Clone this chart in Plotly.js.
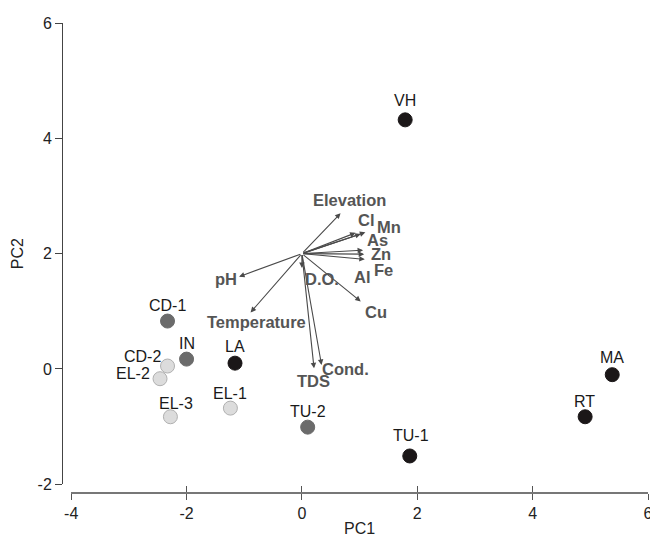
<!DOCTYPE html>
<html>
<head>
<meta charset="utf-8">
<script src="https://cdn.plot.ly/plotly-3.0.1.min.js"></script>
<style>html,body{margin:0;padding:0;background:#fff;}#chart{width:650px;height:540px;}</style>
</head>
<body>
<div id="chart"></div>
<script>
// Sample scores
var sites = ['VH','MA','RT','TU-1','TU-2','LA','IN','CD-1','CD-2','EL-2','EL-3','EL-1'];
var pc1   = [1.79, 5.38, 4.91, 1.87, 0.10, -1.16, -2.00, -2.33, -2.33, -2.46, -2.28, -1.24];
var pc2   = [4.32, -0.10, -0.83, -1.51, -1.01, 0.10, 0.17, 0.83, 0.05, -0.17, -0.83, -0.68];
var group = ['A','A','A','A','B','A','B','B','C','C','C','C'];

// Variable loadings (arrow tips, drawn from the origin point)
var originPC1 = 0.0;
var originPC2 = 2.0;
var variables = ['Elevation','Cl','Mn','As','Zn','Fe','Al','D.O.','Cu','pH','Temperature','Cond.','TDS'];
var loadPC1   = [0.67, 0.93, 1.10, 1.02, 1.06, 1.08, 1.09, 0.00, 1.02, -1.09, -0.89, 0.34, 0.21];
var loadPC2   = [2.70, 2.36, 2.37, 2.34, 2.06, 1.99, 1.90, 1.75, 1.17, 1.60, 0.98, 0.07, 0.01];

var xTicks = [-4, -2, 0, 2, 4, 6];
var yTicks = [-2, 0, 2, 4, 6];

// styles
var groupStyle = {
  A: {color: '#1b1718', line: '#1b1718'},
  B: {color: '#6b6b6b', line: '#6b6b6b'},
  C: {color: '#dcdcdc', line: '#b0b0b0'}
};
var siteLabelShift = {
  'VH':[0,19],'MA':[0,17],'RT':[-1,15],'TU-1':[1,20],'TU-2':[0,16],'LA':[0,17],
  'IN':[0,16],'CD-1':[0,16],'CD-2':[-25,10],'EL-2':[-27,5],'EL-3':[6,13],'EL-1':[0,15]
};
var varLabelShift = {
  'Elevation':[9,13],'Cl':[11,13],'Mn':[24,5],'As':[17,-6],'Zn':[18,-4],'Fe':[19,-16],
  'Al':[-2,-18],'D.O.':[20,-11],'Cu':[15,-11],'pH':[-13,-2],'Temperature':[6,-10],
  'Cond.':[24,-4],'TDS':[-1,-13]
};
var FONT = 'Liberation Sans, Arial, sans-serif';

var traces = [];
['A','B','C'].forEach(function(g){
  var xs=[], ys=[], ns=[];
  for (var i=0;i<sites.length;i++){ if(group[i]===g){xs.push(pc1[i]);ys.push(pc2[i]);ns.push(sites[i]);} }
  traces.push({
    type:'scatter', mode:'markers', x:xs, y:ys, text:ns, hoverinfo:'text',
    marker:{size:14, color:groupStyle[g].color, line:{color:groupStyle[g].line, width:1}},
    cliponaxis:false, showlegend:false
  });
});
// empty trace to host the overlay axes that draw the inner half of each tick
traces.push({type:'scatter', mode:'markers', x:[], y:[], xaxis:'x2', yaxis:'y2', showlegend:false, hoverinfo:'skip'});

var annotations = [];
for (var j=0;j<variables.length;j++){
  annotations.push({
    x: loadPC1[j], y: loadPC2[j], ax: originPC1, ay: originPC2,
    xref:'x', yref:'y', axref:'x', ayref:'y',
    text:'', showarrow:true, arrowhead:2, arrowsize:1, arrowwidth:1.1,
    arrowcolor:'#4a4a4a', standoff:0, startstandoff:0
  });
}
for (var j=0;j<variables.length;j++){
  var s = varLabelShift[variables[j]];
  annotations.push({
    x: loadPC1[j], y: loadPC2[j], xref:'x', yref:'y', text:'<b>'+variables[j]+'</b>',
    showarrow:false, xshift:s[0], yshift:s[1], xanchor:'center', yanchor:'middle',
    font:{family:FONT, size:16.5, color:'#555555'}
  });
}
for (var i=0;i<sites.length;i++){
  var s = siteLabelShift[sites[i]];
  annotations.push({
    x: pc1[i], y: pc2[i], xref:'x', yref:'y', text:sites[i],
    showarrow:false, xshift:s[0], yshift:s[1], xanchor:'center', yanchor:'middle',
    font:{family:FONT, size:16, color:'#1a1a1a'}
  });
}

var layout = {
  width:650, height:540,
  margin:{l:62, r:2, t:23, b:48},
  paper_bgcolor:'#ffffff', plot_bgcolor:'#ffffff',
  showlegend:false,
  font:{family:FONT, size:16, color:'#222'},
  xaxis:{
    range:[-4,6], domain:[0.0157,1], anchor:'free', position:0,
    tickvals:xTicks, ticktext:xTicks.map(String), ticklabeloverflow:'allow',
    showgrid:false, zeroline:false, showline:true, linecolor:'#777', linewidth:1.5,
    ticks:'outside', ticklen:6, tickcolor:'#555', tickwidth:1,
    tickfont:{size:16, color:'#222'},
    title:{text:'PC1', font:{size:16, color:'#222'}, standoff:2}
  },
  yaxis:{
    range:[-2,6], domain:[0.0166,1], anchor:'free', position:0,
    tickvals:yTicks, ticktext:yTicks.map(String), ticklabeloverflow:'allow',
    showgrid:false, zeroline:false, showline:true, linecolor:'#444', linewidth:1.3,
    ticks:'outside', ticklen:7, tickcolor:'#444', tickwidth:1,
    tickfont:{size:16, color:'#222'},
    title:{text:'PC2', font:{size:16, color:'#222'}, standoff:8}
  },
  xaxis2:{
    range:[-4,6], domain:[0.0157,1], anchor:'free', position:0, overlaying:'x',
    tickvals:xTicks, showticklabels:false, showgrid:false, zeroline:false, showline:false,
    ticks:'inside', ticklen:6, tickcolor:'#555', tickwidth:1
  },
  yaxis2:{
    range:[-2,6], domain:[0.0166,1], anchor:'free', position:0, overlaying:'y',
    tickvals:[-2], showticklabels:false, showgrid:false, zeroline:false, showline:false,
    ticks:'inside', ticklen:6, tickcolor:'#444', tickwidth:1
  },
  annotations:annotations
};

Plotly.newPlot('chart', traces, layout, {displayModeBar:false, staticPlot:true});
</script>
</body>
</html>
